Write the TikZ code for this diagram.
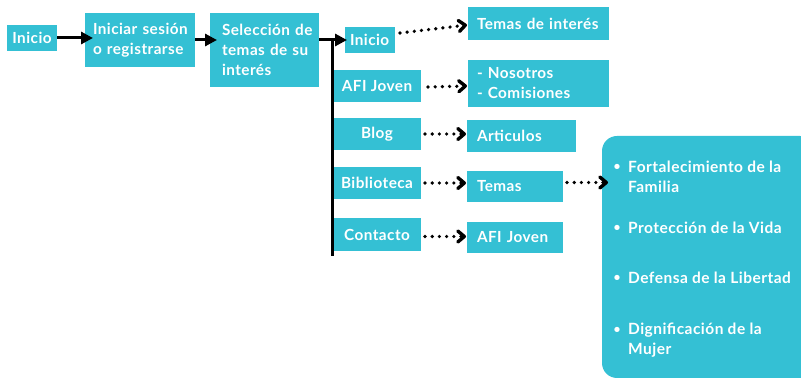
\documentclass[tikz,border=0pt]{standalone}
\usepackage{fontspec}
\setmainfont{Lato}[LetterSpace=3]
\usetikzlibrary{arrows.meta}
\definecolor{cyanbox}{RGB}{52,192,212}
\begin{document}
\begin{tikzpicture}[x=1pt,y=-1pt,
  box/.style={fill=cyanbox,text=white,font=\bfseries\fontsize{15.3}{20}\selectfont,inner sep=0pt,outer sep=0pt},
  lbox/.style={box,align=left},
  cbox/.style={box,align=center},
  itemtext/.style={text=white,font=\bfseries\fontsize{15.5}{20}\selectfont,inner sep=0pt,anchor=west,align=left},
  bul/.style={text=white,font=\bfseries\fontsize{12}{14}\selectfont,inner sep=0pt},
  solidarrow/.style={line width=3pt,-{Triangle[length=12pt,width=12pt]}},
  trunk/.style={line width=3pt},
  dotarrow/.style={line width=3.6pt,line cap=round,dash pattern=on 0pt off 7.2pt,
    -{Straight Barb[round,length=6.5pt,width=11pt,line width=3.4pt]}}
]
\useasboundingbox (0,0) rectangle (801,379);

% main flow
\node[cbox,minimum width=50pt,minimum height=26pt] (ini) at (32,38) {Inicio};
\node[lbox,minimum width=110pt,minimum height=54pt,text width=94pt,inner xsep=8pt] (ses) at (140,40)
  {\mbox{Iniciar sesión}\\\mbox{o registrarse}};
\node[lbox,minimum width=109pt,minimum height=74pt,text width=85pt,inner xsep=12pt] (sel) at (264.5,50)
  {\mbox{Selección de}\\\mbox{temas de su}\\\mbox{interés}};

% branch nodes
\node[lbox,minimum width=50pt,minimum height=26pt,text width=40pt,inner xsep=5pt] (ini2) at (370,40) {Inicio};
\node[cbox,minimum width=88pt,minimum height=32pt] (afi) at (377,86) {AFI Joven};
\node[cbox,minimum width=88pt,minimum height=32pt] (blog) at (377,134) {Blog};
\node[cbox,minimum width=88pt,minimum height=32pt] (bib) at (377,183) {Biblioteca};
\node[cbox,minimum width=88pt,minimum height=33pt] (con) at (377,234.5) {Contacto};

% second level
\node[lbox,minimum width=141pt,minimum height=33pt,text width=123pt,inner xsep=9pt] (tem) at (538.5,23.5) {\mbox{Temas de interés}};
\node[lbox,minimum width=141pt,minimum height=47pt,text width=123pt,inner xsep=9pt] (nos) at (538.5,83.5) {\mbox{- Nosotros}\\\mbox{- Comisiones}};
\node[lbox,minimum width=109pt,minimum height=32pt,text width=89pt,inner xsep=10pt] (art) at (521.5,136) {Articulos};
\node[lbox,minimum width=96pt,minimum height=31pt,text width=76pt,inner xsep=10pt] (tms) at (515,186.5) {Temas};
\node[lbox,minimum width=96pt,minimum height=31pt,text width=76pt,inner xsep=10pt] (afi2) at (515,237.5) {\mbox{AFI Joven}};

% big box
\node[fill=cyanbox,rounded corners=15pt,minimum width=213pt,minimum height=242pt,inner sep=0pt,outer sep=0pt] (big) at (708.5,257) {};
\node[bul] (b1) at (617,167) {•};
\node[bul] (b2) at (617,228) {•};
\node[bul] (b3) at (617,278) {•};
\node[bul] (b4) at (617,330) {•};
\node[itemtext] (t1) at (628,177) {Fortalecimiento de la\\Familia};
\node[itemtext] (t2) at (628,228) {Protección de la Vida};
\node[itemtext] (t3) at (628,278) {Defensa de la Libertad};
\node[itemtext] (t4) at (628,340) {Dignificación de la\\Mujer};

% trunk
\coordinate (trtop) at (332,39);
\coordinate (trbot) at (332,256);
\draw[trunk] (trtop) -- (trbot);

% solid arrows
\draw[solidarrow,shorten >=-8pt] (ini.east) -- (ini.east -| ses.west);
\draw[solidarrow,shorten >=-7pt] (ses.east) -- (ses.east -| sel.west);
\draw[solidarrow,shorten >=-2pt] (sel.east |- ini2.west) -- (ini2.west);

% dotted arrows
\draw[dotarrow] ([xshift=5pt,yshift=7pt]ini2.east) -- ([xshift=-1pt,yshift=-1.5pt]tem.west);
\draw[dotarrow] ([xshift=7pt,yshift=-1pt]afi.east) -- ([xshift=-1pt]afi.east -| nos.west);
\draw[dotarrow] ([xshift=4pt]blog.east) -- ([xshift=-1pt]blog.east -| art.west);
\draw[dotarrow] ([xshift=4pt]bib.east) -- ([xshift=-1pt]bib.east -| tms.west);
\draw[dotarrow] ([xshift=4pt,yshift=-2pt]con.east) -- ([xshift=-1pt,yshift=-2pt]con.east -| afi2.west);
\draw[dotarrow] ([xshift=4pt,yshift=4pt]tms.east) -- ([xshift=6pt,yshift=4pt]tms.east -| big.west);
\end{tikzpicture}
\end{document}
